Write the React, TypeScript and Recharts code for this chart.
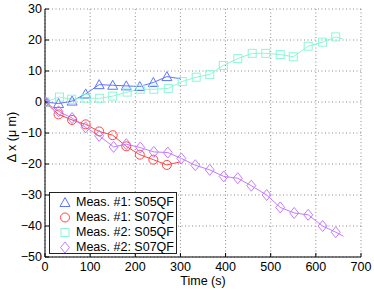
import React from 'react';
import { ComposedChart, Line, XAxis, YAxis, CartesianGrid, Legend, Label } from 'recharts';

const xTicks = [0, 100, 200, 300, 400, 500, 600, 700];
const yTicks = [-50, -40, -30, -20, -10, 0, 10, 20, 30];

const seriesNames = ['Meas. #1: S05QF', 'Meas. #1: S07QF', 'Meas. #2: S05QF', 'Meas. #2: S07QF'];
const seriesColors = ['#5f74ff', '#ff4747', '#8cf7d6', '#c27cff'];
const seriesShapes = ['triangle', 'circle', 'square', 'diamond'];

// Meas. #1: S05QF
const m1S05Time = [0, 30, 60, 90, 120, 150, 180, 210, 240, 270, 300];
const m1S05Value = [0, -0.5, 0.3, 2.6, 5.6, 5.4, 5.2, 5.0, 6.3, 8.2, 7.5];
// Meas. #1: S07QF
const m1S07Time = [0, 30, 60, 90, 120, 150, 180, 210, 240, 270, 300];
const m1S07Value = [0, -4.0, -5.8, -7.2, -9.5, -10.7, -14.3, -17.0, -18.6, -20.3, -19.3];
// Meas. #2: S05QF
const m2S05Time = [0, 32, 59, 91, 121, 150, 182, 211, 241, 273, 304, 335, 365, 395, 427, 459, 489, 521, 550, 583, 615, 644, 659];
const m2S05Value = [0, 1.6, 0.9, 1.2, 1.2, 1.9, 3.2, 4.1, 4.1, 4.4, 6.6, 8.0, 8.9, 11.8, 14.0, 15.7, 15.7, 15.3, 14.6, 18.0, 19.3, 21.0, 20.4];
// Meas. #2: S07QF
const m2S07Time = [0, 30, 60, 90, 120, 152, 180, 211, 241, 272, 302, 333, 365, 396, 427, 457, 491, 521, 552, 583, 615, 644, 661];
const m2S07Value = [0, -3.0, -5.2, -8.2, -10.9, -14.5, -13.6, -14.7, -16.1, -16.3, -18.2, -20.4, -21.9, -24.0, -24.6, -27.0, -30.0, -34.0, -35.8, -36.4, -40.0, -42.0, -43.3];

// the last point of each series is the end of the trace, drawn without a marker
const build = (ts: number[], vs: number[]) =>
  ts.map((t, i) => ({ t, v: vs[i], m: i < ts.length - 1 }));

const seriesData = [
  build(m1S05Time, m1S05Value),
  build(m1S07Time, m1S07Value),
  build(m2S05Time, m2S05Value),
  build(m2S07Time, m2S07Value),
];

const FONT = '"Liberation Sans", Arial, Helvetica, sans-serif';

function Marker({ shape, cx, cy, color }: { shape: string; cx: number; cy: number; color: string }) {
  const common = { fill: 'none', stroke: color, strokeWidth: 1 };
  if (shape === 'triangle') {
    return <polygon points={`${cx},${cy - 5} ${cx - 5},${cy + 4} ${cx + 5},${cy + 4}`} {...common} />;
  }
  if (shape === 'circle') {
    return <circle cx={cx} cy={cy} r={4.5} {...common} />;
  }
  if (shape === 'square') {
    return <rect x={cx - 4} y={cy - 4} width={8} height={8} {...common} />;
  }
  return <polygon points={`${cx},${cy - 5.5} ${cx + 4.5},${cy} ${cx},${cy + 5.5} ${cx - 4.5},${cy}`} {...common} />;
}

function makeDot(idx: number) {
  return (props: any) => {
    const { cx, cy, payload, index } = props;
    if (!payload || !payload.m || cx == null || cy == null) return <g key={`d${idx}-${index}`} />;
    return (
      <g key={`d${idx}-${index}`}>
        <Marker shape={seriesShapes[idx]} cx={cx} cy={cy} color={seriesColors[idx]} />
      </g>
    );
  };
}

function LegendBox() {
  return (
    <div
      style={{
        width: 126,
        height: 60,
        background: '#fff',
        border: '1px solid #222',
        fontFamily: FONT,
        fontSize: 12.5,
        color: '#000',
        position: 'relative',
      }}
    >
      {seriesNames.map((name, i) => (
        <div key={name} style={{ position: 'absolute', left: 0, top: 2 + i * 15, height: 15, width: 126 }}>
          <svg width={22} height={15} style={{ position: 'absolute', left: 4, top: 0 }}>
            <Marker shape={seriesShapes[i]} cx={11} cy={7.5} color={seriesColors[i]} />
          </svg>
          <span style={{ position: 'absolute', left: 26, top: 0, lineHeight: '15px', whiteSpace: 'nowrap' }}>{name}</span>
        </div>
      ))}
    </div>
  );
}

const YLabel = (props: any) => {
  const vb = props.viewBox || { x: 0, y: 0, width: 0, height: 0 };
  const cx = vb.x + 12;
  const cy = vb.y + vb.height / 2 + 4;
  return (
    <text
      x={cx}
      y={cy}
      transform={`rotate(-90 ${cx} ${cy})`}
      textAnchor="middle"
      dominantBaseline="central"
      fontFamily={FONT}
      fontSize={12.5}
      fill="#000"
    >
      Δ x (μ m)
    </text>
  );
};

export default function App() {
  return (
    <div style={{ position: 'absolute', left: 0, top: 0, width: 374, height: 290, background: '#fff' }}>
      <ComposedChart width={374} height={290} margin={{ top: 9, right: 13, bottom: 0, left: 0 }}>
        <CartesianGrid stroke="#8a8a8a" strokeDasharray="1 2.5" strokeWidth={1} />
        <XAxis
          dataKey="t"
          type="number"
          domain={[0, 700]}
          ticks={xTicks}
          allowDataOverflow
          height={33}
          tickSize={-4}
          tickMargin={9.5}
          axisLine={{ stroke: '#000', strokeWidth: 1 }}
          tickLine={{ stroke: '#000' }}
          tick={{ fill: '#000', fontSize: 12.5, fontFamily: FONT }}
        >
          <Label value="Time (s)" position="insideBottom" offset={5} fill="#000" fontSize={12.5} fontFamily={FONT} />
        </XAxis>
        <XAxis
          xAxisId="top"
          orientation="top"
          dataKey="t"
          type="number"
          domain={[0, 700]}
          ticks={xTicks}
          height={0}
          tickSize={-4}
          tickFormatter={() => ''}
          axisLine={{ stroke: '#000', strokeWidth: 1 }}
          tickLine={{ stroke: '#000' }}
        />
        <YAxis
          type="number"
          domain={[-50, 30]}
          ticks={yTicks}
          allowDataOverflow
          width={45}
          tickSize={-4}
          tickMargin={7}
          axisLine={{ stroke: '#000', strokeWidth: 1 }}
          tickLine={{ stroke: '#000' }}
          tick={{ fill: '#000', fontSize: 12.5, fontFamily: FONT }}
          tickFormatter={(v: number) => (v < 0 ? `\u2212${Math.abs(v)}` : `${v}`)}
        >
          <Label content={YLabel} />
        </YAxis>
        <YAxis
          yAxisId="right"
          orientation="right"
          type="number"
          domain={[-50, 30]}
          ticks={yTicks}
          width={0}
          tickSize={-4}
          tickFormatter={() => ''}
          axisLine={{ stroke: '#000', strokeWidth: 1 }}
          tickLine={{ stroke: '#000' }}
        />
        {seriesData.map((d, i) => (
          <Line
            key={seriesNames[i]}
            data={d}
            dataKey="v"
            name={seriesNames[i]}
            type="linear"
            stroke={seriesColors[i]}
            strokeWidth={1}
            dot={makeDot(i)}
            activeDot={false}
            isAnimationActive={false}
          />
        ))}
        <Legend
          layout="vertical"
          align="center"
          verticalAlign="middle"
          content={() => <LegendBox />}
          wrapperStyle={{ position: 'absolute', left: 49, top: 192, width: 128, height: 62, margin: 0, padding: 0 }}
        />
      </ComposedChart>
    </div>
  );
}
